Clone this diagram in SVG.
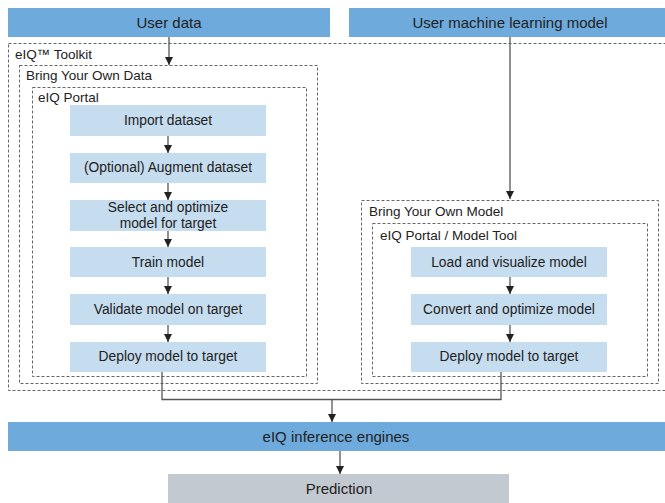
<svg xmlns="http://www.w3.org/2000/svg" width="665" height="503" viewBox="0 0 665 503">
<defs>
<marker id="ah" viewBox="0 0 8 8" refX="8" refY="4" markerWidth="8" markerHeight="8" markerUnits="userSpaceOnUse" orient="auto">
<path d="M0,0 L8,4 L0,8 Z" fill="#222"/>
</marker>
<style>
.hdr{fill:#6eaadc}
.step{fill:#c6dcef}
.pred{fill:#c3c9d0}
.dash{fill:none;stroke:#666;stroke-width:1;stroke-dasharray:3,2}
.t{font-family:"Liberation Sans",Arial,sans-serif;fill:#222}
.t15{font-size:15px;text-anchor:middle}
.t13{font-size:13.8px;text-anchor:middle}
.lbl{font-size:13.5px}
.conn{fill:none;stroke:#555;stroke-width:1.3}
</style>
</defs>
<rect width="665" height="503" fill="#fff"/>

<g id="toolkit">
<rect class="dash" x="8.5" y="43.5" width="660" height="347"/>
<text class="t lbl" x="15" y="59">eIQ™ Toolkit</text>
</g>
<g id="byod">
<rect class="dash" x="19.5" y="65.5" width="298" height="318"/>
<text class="t lbl" x="26" y="80">Bring Your Own Data</text>
</g>
<g id="portal">
<rect class="dash" x="32.5" y="87.5" width="274" height="289"/>
<text class="t lbl" x="38" y="102">eIQ Portal</text>
</g>
<g id="byom">
<rect class="dash" x="361.5" y="200.5" width="297" height="183"/>
<text class="t lbl" x="369" y="216">Bring Your Own Model</text>
</g>
<g id="portaltool">
<rect class="dash" x="372.5" y="223.5" width="275" height="153"/>
<text class="t lbl" x="380" y="240">eIQ Portal / Model Tool</text>
</g>

<g id="userdata">
<rect class="hdr" x="8" y="8" width="322" height="29"/>
<text class="t t15" x="169" y="28">User data</text>
</g>
<g id="usermodel">
<rect class="hdr" x="349" y="8" width="316" height="29"/>
<text class="t t15" x="510" y="28">User machine learning model</text>
</g>

<g id="import">
<rect class="step" x="70" y="105" width="196" height="31"/>
<text class="t t13" x="168" y="125">Import dataset</text>
</g>
<g id="augment">
<rect class="step" x="70" y="153" width="196" height="30"/>
<text class="t t13" x="168" y="172">(Optional) Augment dataset</text>
</g>
<g id="select">
<rect class="step" x="70" y="200" width="196" height="31"/>
<text class="t t13" x="168" y="212">Select and optimize</text>
<text class="t t13" x="168" y="228">model for target</text>
</g>
<g id="train">
<rect class="step" x="70" y="247" width="196" height="30"/>
<text class="t t13" x="168" y="267">Train model</text>
</g>
<g id="validate">
<rect class="step" x="70" y="294" width="196" height="31"/>
<text class="t t13" x="168" y="314">Validate model on target</text>
</g>
<g id="deploy1">
<rect class="step" x="70" y="342" width="196" height="30"/>
<text class="t t13" x="168" y="361">Deploy model to target</text>
</g>

<g id="load">
<rect class="step" x="411" y="247" width="196" height="30"/>
<text class="t t13" x="509" y="267">Load and visualize model</text>
</g>
<g id="convert">
<rect class="step" x="411" y="294" width="196" height="31"/>
<text class="t t13" x="509" y="314">Convert and optimize model</text>
</g>
<g id="deploy2">
<rect class="step" x="411" y="342" width="196" height="30"/>
<text class="t t13" x="509" y="361">Deploy model to target</text>
</g>

<g id="engines">
<rect class="hdr" x="8" y="422" width="657" height="29"/>
<text class="t t15" x="336" y="442">eIQ inference engines</text>
</g>
<g id="prediction">
<rect class="pred" x="168" y="474" width="341" height="29"/>
<text class="t t15" x="339" y="494">Prediction</text>
</g>

<g id="connectors">
<path class="conn" d="M169,37 V65" marker-end="url(#ah)"/>
<path class="conn" d="M510,37 V199" marker-end="url(#ah)"/>
<path class="conn" d="M168,136 V153" marker-end="url(#ah)"/>
<path class="conn" d="M168,183 V200" marker-end="url(#ah)"/>
<path class="conn" d="M168,231 V247" marker-end="url(#ah)"/>
<path class="conn" d="M168,277 V294" marker-end="url(#ah)"/>
<path class="conn" d="M168,325 V342" marker-end="url(#ah)"/>
<path class="conn" d="M510,277 V294" marker-end="url(#ah)"/>
<path class="conn" d="M510,325 V342" marker-end="url(#ah)"/>
<path class="conn" d="M162,372 V399.5 H501 V372"/>
<path class="conn" d="M332,399.5 V422" marker-end="url(#ah)"/>
<path class="conn" d="M340,451 V474" marker-end="url(#ah)"/>
</g>
</svg>
